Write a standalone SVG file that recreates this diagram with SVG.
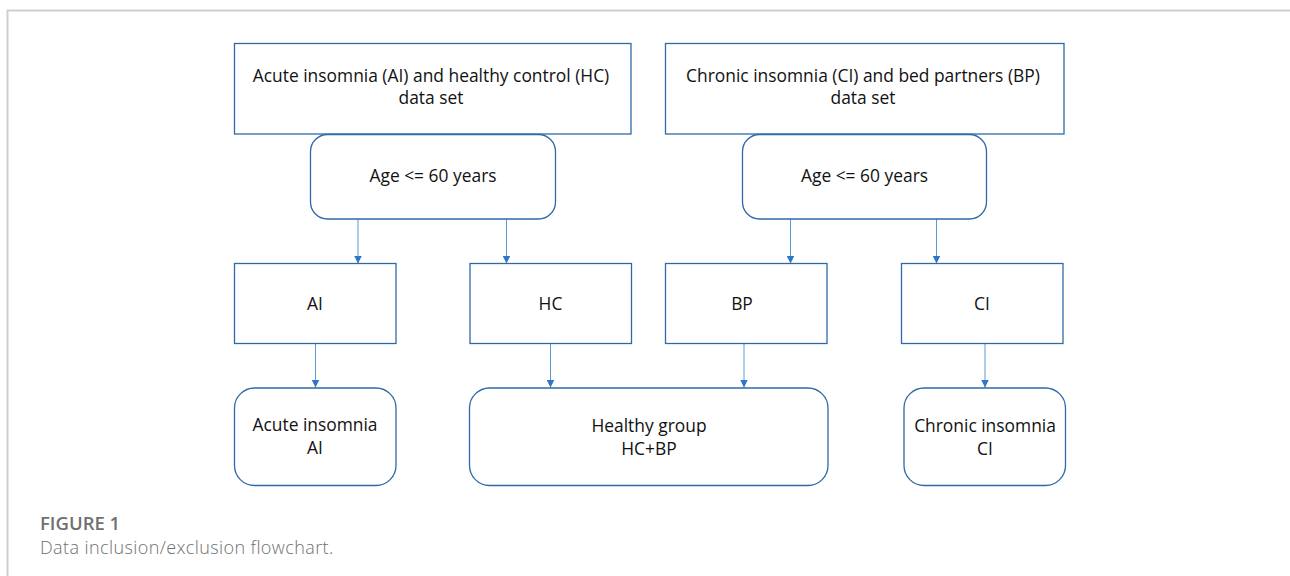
<svg xmlns="http://www.w3.org/2000/svg" width="1290" height="576" viewBox="0 0 1290 576">
<style>
.box{fill:#fff;stroke:#2e6aa6;stroke-width:1.3}
.t{font-family:"Open Sans",sans-serif;font-size:17.4px;fill:#111;text-anchor:middle}
.c{stroke:#5b9bd5;stroke-width:1;fill:none}
.cap1{font-family:"Open Sans",sans-serif;font-size:18.5px;font-weight:600;fill:#707070}
.cap2{font-family:"Open Sans",sans-serif;font-size:18px;font-weight:300;fill:#707070;letter-spacing:0.4px}
</style>
<defs>
<marker id="ah" viewBox="0 0 10 10" refX="10" refY="5" markerWidth="8" markerHeight="8" markerUnits="userSpaceOnUse" orient="auto">
<path d="M0,0 L10,5 L0,10 z" fill="#2f75c9"/>
</marker>
</defs>
<rect width="1290" height="576" fill="#fff"/>
<path d="M7.5,576 V10.5 H1290" fill="none" stroke="#cfcfcf" stroke-width="2"/>
<g id="connectors">
<line class="c" x1="358" y1="219" x2="358" y2="263.5" marker-end="url(#ah)"/>
<line class="c" x1="506.5" y1="219" x2="506.5" y2="263.5" marker-end="url(#ah)"/>
<line class="c" x1="790.5" y1="219" x2="790.5" y2="263.5" marker-end="url(#ah)"/>
<line class="c" x1="936.5" y1="219" x2="936.5" y2="263.5" marker-end="url(#ah)"/>
<line class="c" x1="315.5" y1="343.5" x2="315.5" y2="387.5" marker-end="url(#ah)"/>
<line class="c" x1="550.5" y1="343.5" x2="550.5" y2="387.5" marker-end="url(#ah)"/>
<line class="c" x1="744" y1="343.5" x2="744" y2="387.5" marker-end="url(#ah)"/>
<line class="c" x1="985" y1="343.5" x2="985" y2="387.5" marker-end="url(#ah)"/>
</g>
<g id="ds1">
<rect class="box" x="234.5" y="43.5" width="396.5" height="90.5"/>
<text class="t" x="431" y="81.5">Acute insomnia (AI) and healthy control (HC)</text>
<text class="t" x="431" y="104">data set</text>
</g>
<g id="ds2">
<rect class="box" x="665.5" y="43.5" width="398.5" height="90.5"/>
<text class="t" x="863" y="81.5">Chronic insomnia (CI) and bed partners (BP)</text>
<text class="t" x="863" y="104">data set</text>
</g>
<g id="age1">
<rect class="box" x="310.5" y="134.5" width="245" height="84.5" rx="17"/>
<text class="t" x="433" y="181.5">Age &lt;= 60 years</text>
</g>
<g id="age2">
<rect class="box" x="742.5" y="134.5" width="244" height="84.5" rx="17"/>
<text class="t" x="864.5" y="181.5">Age &lt;= 60 years</text>
</g>
<g id="ai">
<rect class="box" x="234.5" y="263.5" width="161.5" height="80"/>
<text class="t" x="315" y="310">AI</text>
</g>
<g id="hc">
<rect class="box" x="470" y="263.5" width="161.5" height="80"/>
<text class="t" x="550.5" y="310">HC</text>
</g>
<g id="bp">
<rect class="box" x="665.5" y="263.5" width="161.5" height="80"/>
<text class="t" x="742" y="310">BP</text>
</g>
<g id="ci">
<rect class="box" x="901.5" y="263.5" width="161.5" height="80"/>
<text class="t" x="982" y="310">CI</text>
</g>
<g id="acute">
<rect class="box" x="234.5" y="388" width="161.5" height="97.5" rx="20"/>
<text class="t" x="315" y="430.5">Acute insomnia</text>
<text class="t" x="315" y="453.5">AI</text>
</g>
<g id="healthy">
<rect class="box" x="469.5" y="388" width="358.5" height="97.5" rx="20"/>
<text class="t" x="649" y="432">Healthy group</text>
<text class="t" x="649" y="454.5">HC+BP</text>
</g>
<g id="chronic">
<rect class="box" x="904" y="388" width="161.5" height="97.5" rx="20"/>
<text class="t" x="985" y="432">Chronic insomnia</text>
<text class="t" x="985" y="454.5">CI</text>
</g>
<text class="cap1" x="40" y="529.5">FIGURE 1</text>
<text class="cap2" x="40" y="553.5">Data inclusion/exclusion flowchart.</text>
</svg>
